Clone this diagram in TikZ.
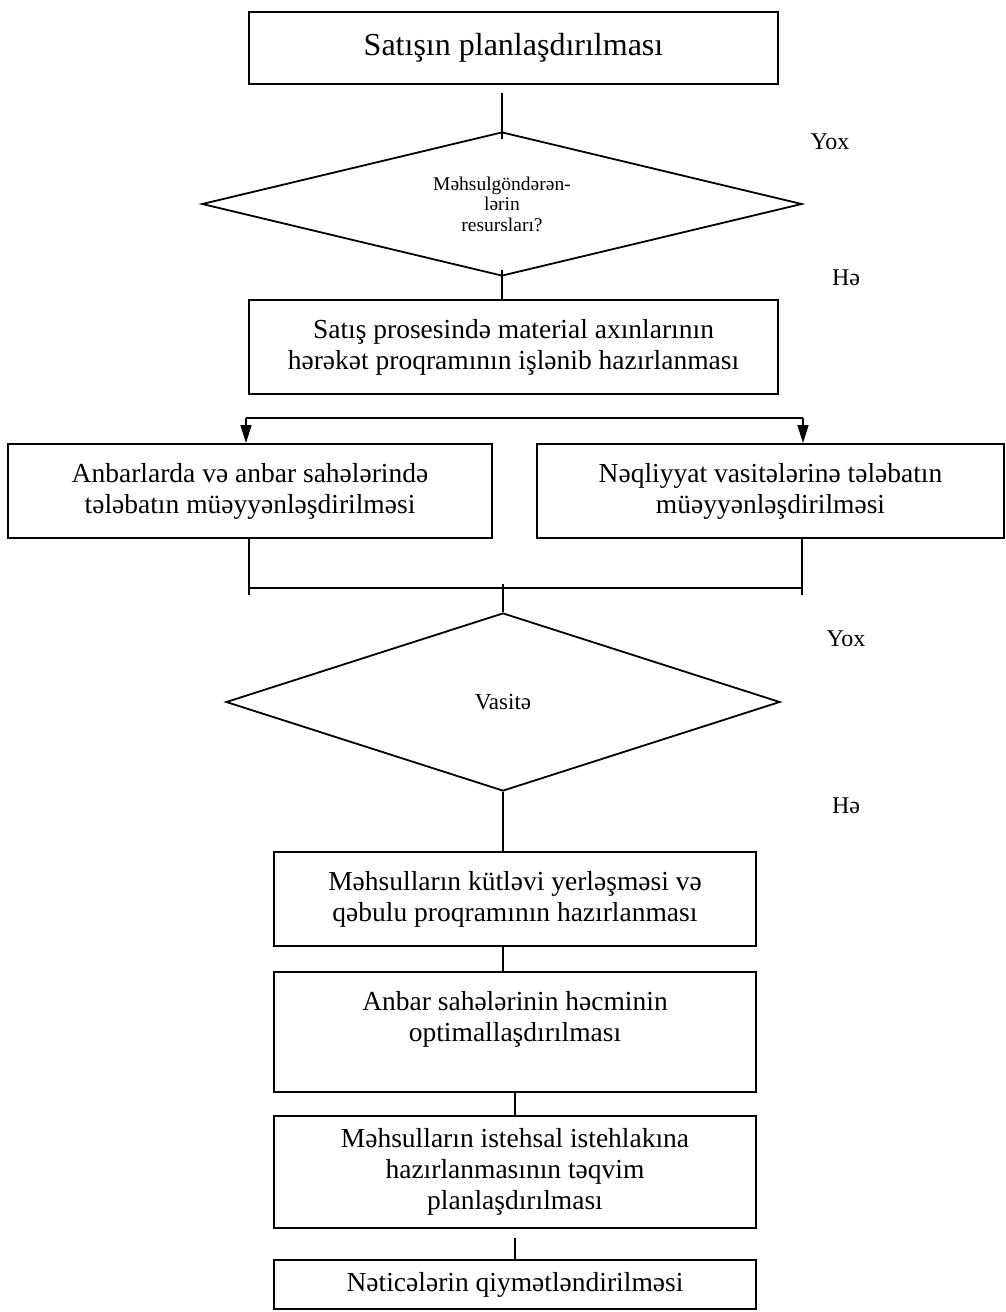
\documentclass[tikz,border=0pt]{standalone}
\usepackage{fontspec}
\setmainfont{Liberation Serif}
\usepackage{tikz}
\usetikzlibrary{calc}
\usetikzlibrary{positioning}
\usetikzlibrary{shapes}
\usetikzlibrary{arrows.meta}

\begin{document}
\begin{tikzpicture}[x=1pt, y=-1pt,
		box/.style={rectangle, draw, line width=2pt, inner sep=0pt, align=center, font=\fontsize{27.5}{31}\selectfont},
		cond/.style={diamond, draw, line width=1.8pt, inner sep=0pt, align=center},
		lbl/.style={inner sep=0pt, font=\fontsize{24}{28}\selectfont},
		link/.style={line width=1.5pt},
		arr/.style={line width=1.5pt, -{Triangle[length=18pt, width=11pt]}}]
				\useasboundingbox (0,0) rectangle (1006,1312);

				\node[box, minimum width=529pt, minimum height=72pt, font=\fontsize{32}{36}\selectfont] (0) at (513.5,48) {Satışın planlaşdırılması};
				\node[cond, minimum width=600pt, minimum height=144pt, shape aspect=4, font=\fontsize{19.5}{20.5}\selectfont] (1) at (502,204) {Məhsulgöndərən-\\lərin\\resursları?};
				\node[box, minimum width=529pt, minimum height=94pt] (2) at (513.5,347) {Satış prosesində material axınlarının\\hərəkət proqramının işlənib hazırlanması};
				\node[box, minimum width=484pt, minimum height=94pt] (3) at (250,491) {Anbarlarda və anbar sahələrində\\tələbatın müəyyənləşdirilməsi};
				\node[box, minimum width=467pt, minimum height=94pt] (4) at (770.5,491) {Nəqliyyat vasitələrinə tələbatın\\müəyyənləşdirilməsi};
				\node[cond, minimum width=554pt, minimum height=178pt, shape aspect=3, font=\fontsize{23}{26}\selectfont] (5) at (503,702) {Vasitə};
				\node[box, minimum width=482.5pt, minimum height=94pt] (6) at (515,899) {Məhsulların kütləvi yerləşməsi və\\qəbulu proqramının hazırlanması};
				\node[box, minimum width=482.5pt, minimum height=120pt] (7) at (515,1032) {Anbar sahələrinin həcminin\\optimallaşdırılması\\~};
				\node[box, minimum width=482.5pt, minimum height=112pt] (8) at (515,1172) {Məhsulların istehsal istehlakına\\hazırlanmasının təqvim\\planlaşdırılması};
				\node[box, minimum width=482.5pt, minimum height=49pt] (9) at (515,1284.5) {Nəticələrin qiymətləndirilməsi};

				\node[lbl] (no1) at (830,142) {Yox};
				\node[lbl] (yes1) at (846,278) {Hə};
				\node[lbl] (no2) at (846,639) {Yox};
				\node[lbl] (yes2) at (846,806) {Hə};

				\coordinate (s1) at (246,418);
				\coordinate (s2) at (803,418);
				\coordinate (m1) at (249,588);
				\coordinate (m2) at (802,588);

				\draw[link, shorten <=8pt, shorten >=-8pt] (0.south -| 1.north) -- (1.north);
				\draw[link, shorten <=-7pt] (1.south) -- (1.south |- 2.north);
				\draw[link] (s1) -- (s2);
				\draw[arr] (s1) -- (s1 |- 3.north);
				\draw[arr] (s2) -- (s2 |- 4.north);
				\draw[link] (3.south -| m1) -- ++(0,56);
				\draw[link] (4.south -| m2) -- ++(0,56);
				\draw[link] (m1) -- (m2);
				\draw[link] (5.north) -- ++(0,-28);
				\draw[link] (5.south) -- (5.south |- 6.north);
				\draw[link] (6.south -| 5.south) -- (7.north -| 5.south);
				\draw[link] (7.south) -- (8.north);
				\draw[link, shorten <=9pt] (8.south) -- (9.north);
			\end{tikzpicture}
\end{document}
